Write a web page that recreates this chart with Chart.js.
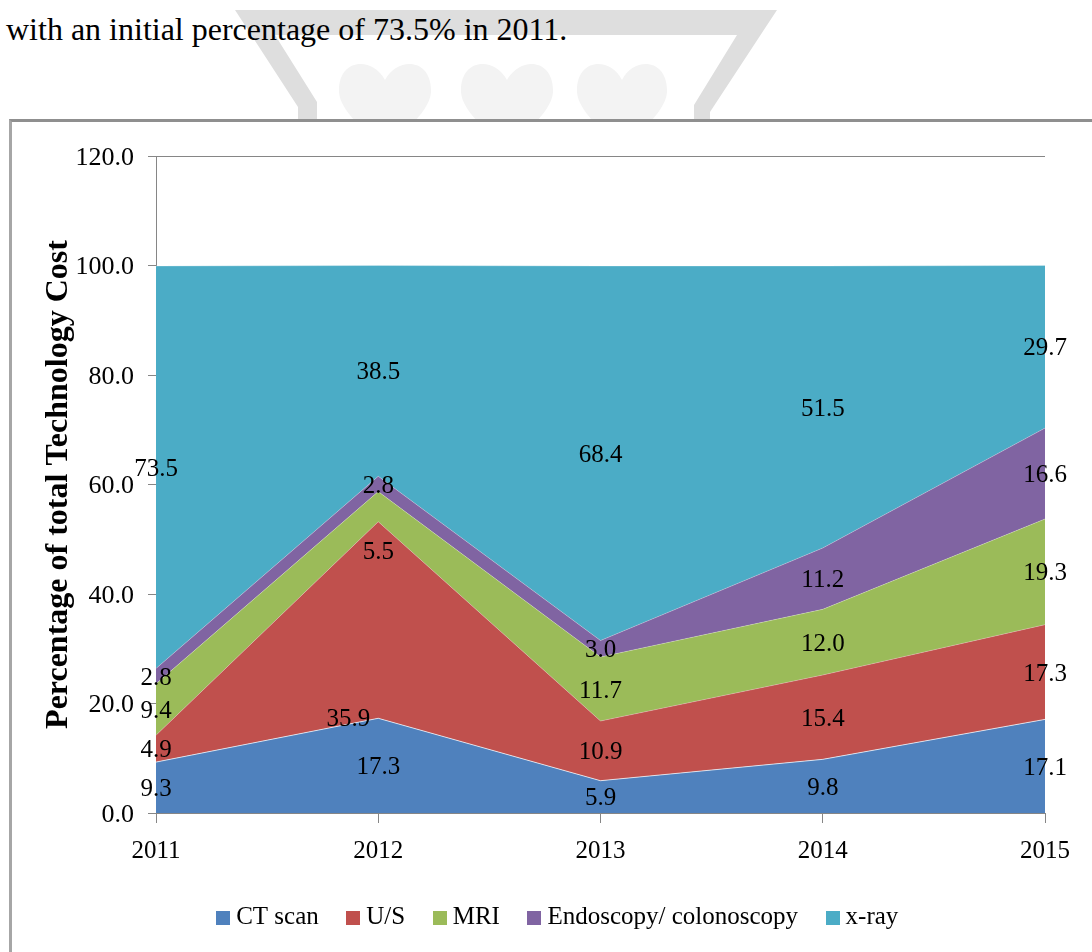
<!DOCTYPE html>
<html>
<head>
<meta charset="utf-8">
<style>
html,body{margin:0;padding:0;background:#fff;width:1092px;height:952px;overflow:hidden;font-family:"Liberation Serif",serif}
#wm{position:absolute;left:0;top:0}
#line{position:absolute;left:6px;top:11px;font-size:32px;line-height:36px;color:#000;white-space:nowrap}
#frame{position:absolute;left:9px;top:119px;right:-5px;bottom:-5px;background:#fff;border-top:3px solid #8f8f8f;border-left:3px solid #a6a6a6}
#wrap{position:absolute;left:28px;top:120px;width:1064px;height:820px}
</style>
</head>
<body>
<svg id="wm" width="1092" height="125">
  <path d="M235 10 H777 L710 112 V120 H694 V105 L737 35 H275 L317 102 V120 H298 V107 Z" fill="#dedede"/>
  <path d="M385 80 C372 56 338 58 339 92 C340 112 370 135 385 150 C400 135 430 112 431 92 C432 58 398 56 385 80 Z" fill="#f3f3f3"/>
  <path d="M507 80 C494 56 460 58 461 92 C462 112 492 135 507 150 C522 135 552 112 553 92 C554 58 520 56 507 80 Z" fill="#f3f3f3"/>
  <path d="M622 80 C610 56 576 58 577 92 C578 112 608 135 622 150 C636 135 666 112 667 92 C668 58 634 56 622 80 Z" fill="#f3f3f3"/>
</svg>
<div id="line">with an initial percentage of 73.5% in 2011.</div>
<div id="frame"></div>
<div id="wrap"><canvas id="c" width="1064" height="820"></canvas></div>
<script src="https://cdn.jsdelivr.net/npm/chart.js@4"></script>
<script>
const categories = ['2011','2012','2013','2014','2015'];
const ctScan    = [9.3, 17.3, 5.9, 9.8, 17.1];
const us        = [4.9, 35.9, 10.9, 15.4, 17.3];
const mri       = [9.4, 5.5, 11.7, 12.0, 19.3];
const endoscopy = [2.8, 2.8, 3.0, 11.2, 16.6];
const xray      = [73.5, 38.5, 68.4, 51.5, 29.7];
const seriesNames = ['CT scan','U/S','MRI','Endoscopy/ colonoscopy','x-ray'];
const seriesColors = ['#4F81BD','#C0504D','#9BBB59','#8064A2','#4BACC6'];
const seriesValues = [ctScan, us, mri, endoscopy, xray];
// The source chart's two stray data labels, as nudges from the band centre.
const labelNudges = {'1:1':[-30,97], '2:1':[0,44]};

const SERIF = '"Liberation Serif", serif';

function swatch(color){
  const s = document.createElement('canvas');
  s.width = 14; s.height = 14;
  const g = s.getContext('2d');
  g.fillStyle = color; g.fillRect(0,0,14,14);
  return s;
}

const bandLabels = {
  id:'bandLabels',
  afterDatasetsDraw(chart){
    const {ctx, scales:{x,y}} = chart;
    ctx.save();
    ctx.font = '25px ' + SERIF;
    ctx.fillStyle = '#000';
    ctx.textAlign = 'center';
    ctx.textBaseline = 'middle';
    categories.forEach((_,i)=>{
      let base = 0;
      seriesValues.forEach((vals,s)=>{
        const n = labelNudges[s+':'+i] || [0,0];
        ctx.fillText(vals[i].toFixed(1), x.getPixelForValue(i)+n[0], y.getPixelForValue(base+vals[i]/2)+n[1]+2);
        base += vals[i];
      });
    });
    ctx.restore();
  }
};

new Chart(document.getElementById('c'),{
  type:'line',
  data:{
    labels:categories,
    datasets:seriesValues.map((vals,i)=>({
      label:seriesNames[i],
      data:vals,
      backgroundColor:seriesColors[i],
      borderColor:i===0?'rgba(255,255,255,0.7)':'rgba(255,255,255,0.25)',
      borderWidth:1,
      pointRadius:0,
      tension:0,
      fill:i===0?'origin':'-1'
    }))
  },
  plugins:[bandLabels],
  options:{
    responsive:false,
    animation:false,
    layout:{padding:{top:36,right:47,left:48,bottom:0}},
    plugins:{
      tooltip:{enabled:false},
      legend:{
        position:'bottom',
        labels:{
          color:'#000',
          font:{family:SERIF,size:25},
          padding:34,
          usePointStyle:true,
          pointStyleWidth:1,
          generateLabels:()=>seriesNames.map((t,i)=>({text:t,pointStyle:swatch(seriesColors[i]),datasetIndex:i,hidden:false,lineWidth:0}))
        }
      }
    },
    scales:{
      x:{
        stacked:true,
        offset:false,
        afterFit(s){s.height=58},
        border:{color:'#868686'},
        grid:{drawOnChartArea:false,color:'#868686',tickLength:10},
        ticks:{color:'#000',font:{family:SERIF,size:25},padding:13,maxRotation:0,autoSkip:false}
      },
      y:{
        stacked:true,
        min:0,max:120,
        afterFit(s){s.width=80},
        border:{color:'#868686'},
        grid:{color:c=>c.tick&&c.tick.value===120?'#868686':'rgba(0,0,0,0)',tickColor:'#868686',tickLength:8},
        ticks:{color:'#000',stepSize:20,font:{family:SERIF,size:26},padding:14,labelOffset:2,callback:v=>v.toFixed(1)},
        title:{display:true,text:'Percentage of total Technology Cost',color:'#000',font:{family:SERIF,size:32,weight:'bold'},padding:{top:-36,bottom:0}}
      }
    }
  }
});
</script>
</body>
</html>
